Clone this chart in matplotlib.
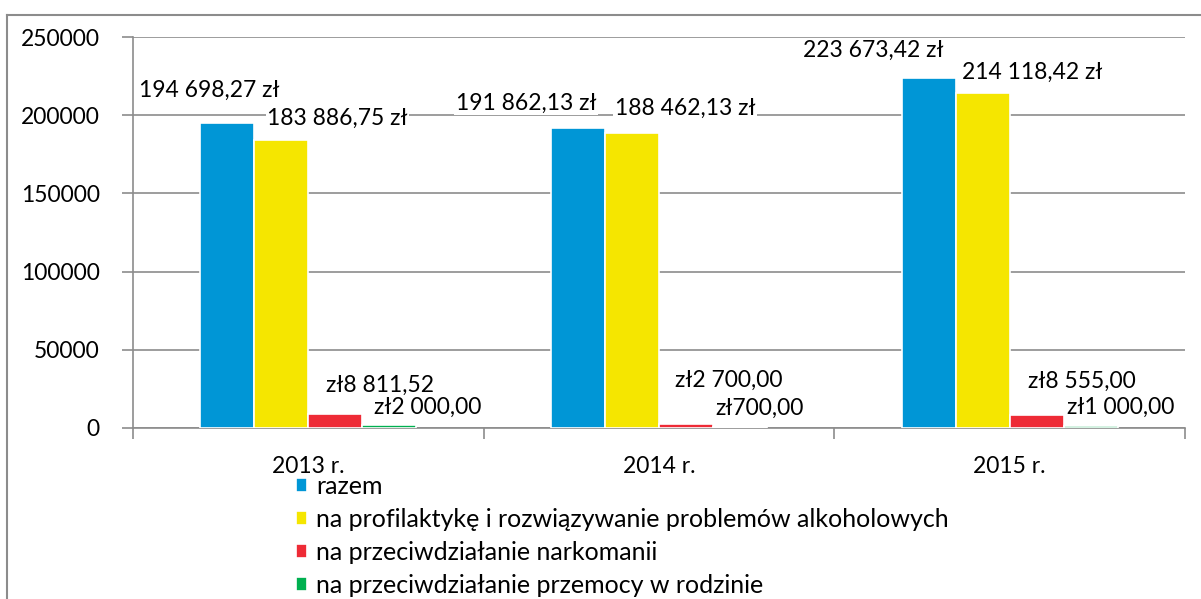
import matplotlib
matplotlib.use("Agg")
import matplotlib.pyplot as plt
from matplotlib.lines import Line2D
import numpy as np

plt.rcParams['font.family'] = ['Lato', 'DejaVu Sans']

years = ['2013 r.', '2014 r.', '2015 r.']
series_names = ['razem',
                'na profilaktykę i rozwiązywanie problemów alkoholowych',
                'na przeciwdziałanie narkomanii',
                'na przeciwdziałanie przemocy w rodzinie']
razem = [194698.27, 191862.13, 223673.42]
alkohol = [183886.75, 188462.13, 214118.42]
narkomania = [8811.52, 2700.00, 8555.00]
przemoc = [2000.00, 700.00, 1000.00]

labels = [
    ['194 698,27 zł', '191 862,13 zł', '223 673,42 zł'],
    ['183 886,75 zł', '188 462,13 zł', '214 118,42 zł'],
    ['zł8 811,52', 'zł2 700,00', 'zł8 555,00'],
    ['zł2 000,00', 'zł700,00', 'zł1 000,00'],
]
# label offsets from bar top, in pixels (hand placed like in the original)
offsets = [
    [(-18, 33), (-52, 25), (-55, 28)],
    [(56, 22), (53, 25), (50, 21)],
    [(45, 29), (43, 43), (45, 33)],
    [(38, 18), (20, 19), (30, 19)],
]
colors = ['#0096D6', '#F5E600', '#EE2B36', '#00B050']

fig = plt.figure(figsize=(12.01, 5.99), dpi=100)
ax = fig.add_axes([133 / 1201, 1 - 428 / 599, (1185 - 133) / 1201, (428 - 37) / 599])

# frame around whole chart (only top and left visible in the picture)
fig.add_artist(Line2D([7 / 1201, 1.0], [1 - 15 / 599, 1 - 15 / 599], color='#8c8c8c', lw=1.5))
fig.add_artist(Line2D([7 / 1201, 7 / 1201], [0.0, 1 - 15 / 599], color='#8c8c8c', lw=1.5))

x = np.arange(len(years))
pitch = 0.154
data = [razem, alkohol, narkomania, przemoc]
bars = []
for i, vals in enumerate(data):
    b = ax.bar(x + (i - 1.5) * pitch, vals, pitch, color=colors[i],
               edgecolor='white', linewidth=1.2, label=series_names[i], zorder=3)
    bars.append(b)
    for j, rect in enumerate(b):
        ax.annotate(labels[i][j], (rect.get_x() + rect.get_width() / 2, rect.get_height()),
                    xytext=offsets[i][j], textcoords='offset pixels',
                    ha='center', va='center', fontsize=16.5, color='black', zorder=5,
                    bbox=dict(fc='white', ec='none', pad=1))

ax.set_xlim(-0.5, 2.5)
ax.set_ylim(0, 250000)
ax.set_yticks(np.arange(0, 250001, 50000))
ax.tick_params(axis='y', labelsize=16.5, length=8, color='#8c8c8c', width=1.2, pad=16)
ax.yaxis.grid(True, color='#8c8c8c', lw=1.2, zorder=0)
ax.set_xticks(x)
ax.set_xticklabels(years)
ax.tick_params(axis='x', which='major', length=0, labelsize=16.5, pad=20)
ax.set_xticks([-0.5, 0.5, 1.5, 2.5], minor=True)
ax.tick_params(axis='x', which='minor', length=8, color='#8c8c8c', width=1.2)
for s in ['top', 'right']:
    ax.spines[s].set_visible(False)
for s in ['left', 'bottom']:
    ax.spines[s].set_color('#8c8c8c')
    ax.spines[s].set_linewidth(1.2)

fig.legend(handles=bars, labels=series_names, loc='upper left',
           bbox_to_anchor=(296 / 1201, 1 - 475 / 599), frameon=False,
           fontsize=18, handlelength=0.45, handleheight=0.45, handletextpad=0.35,
           labelspacing=0.4, borderpad=0, borderaxespad=0)

fig.savefig('out.png', dpi=100)
